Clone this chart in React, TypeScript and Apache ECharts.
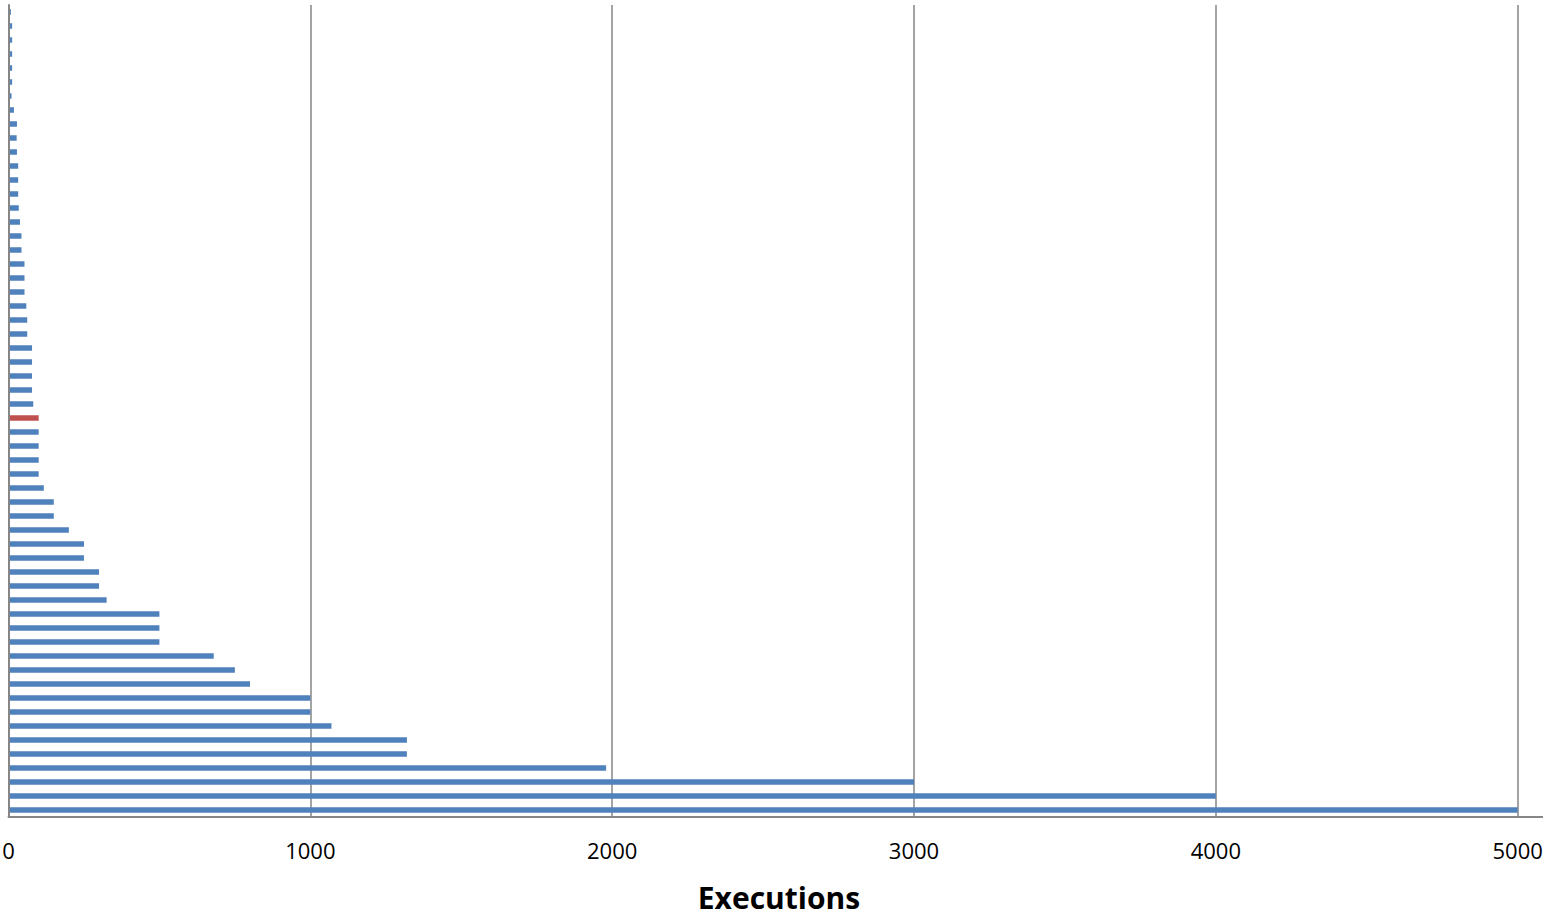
import React, { useEffect, useRef } from "react";
import * as echarts from "echarts";

// Categories from bottom (first) to top (last); original labels are cropped out of view
const categories = [
  "C01", "C02", "C03", "C04", "C05", "C06", "C07", "C08", "C09", "C10",
  "C11", "C12", "C13", "C14", "C15", "C16", "C17", "C18", "C19", "C20",
  "C21", "C22", "C23", "C24", "C25", "C26", "C27", "C28", "C29", "C30",
  "C31", "C32", "C33", "C34", "C35", "C36", "C37", "C38", "C39", "C40",
  "C41", "C42", "C43", "C44", "C45", "C46", "C47", "C48", "C49", "C50",
  "C51", "C52", "C53", "C54", "C55", "C56", "C57", "C58",
];

const executions = [
  5000, 4000, 3000, 1980, 1320, 1320, 1070, 1000, 1000, 800,
  750, 680, 500, 500, 500, 325, 300, 300, 250, 250,
  200, 150, 150, 117, 100, 100, 100, 100, 100, 82,
  78, 78, 78, 78, 62, 62, 59, 53, 53, 53,
  43, 43, 38, 34, 32, 32, 32, 28, 27, 28,
  18, 10, 12, 12, 12, 12, 12, 8,
];

const highlighted = ["C29"];

const xTicks = [0, 1000, 2000, 3000, 4000, 5000, 6000];
const axisTitle = "Executions";

const BLUE = "#4F81BD";
const RED = "#C0504D";
const GRAY = "#868686";

const CHART_W = 1830;
const CHART_H = 915;

export default function App() {
  const ref = useRef<HTMLDivElement>(null);

  useEffect(() => {
    if (!ref.current) return;
    const chart = echarts.init(ref.current, undefined, {
      renderer: "svg",
      width: CHART_W,
      height: CHART_H,
    });
    const data = executions.map((v, i) => ({
      value: v,
      itemStyle: { color: highlighted.includes(categories[i]) ? RED : BLUE },
    }));
    chart.setOption({
      animation: false,
      backgroundColor: "#ffffff",
      grid: {
        left: 8.5,
        top: 5,
        bottom: 98,
        right: 10.5,
        containLabel: false,
        outerBoundsMode: "none",
      },
      xAxis: {
        type: "value",
        min: xTicks[0],
        max: xTicks[xTicks.length - 1],
        interval: 1000,
        axisLine: { show: true, lineStyle: { color: GRAY, width: 2 } },
        axisTick: { show: false },
        splitLine: { show: true, lineStyle: { color: GRAY, width: 1.5 } },
        axisLabel: {
          show: true,
          margin: 22,
          fontFamily: "Open Sans",
          fontSize: 22,
          color: "#000000",
          hideOverlap: false,
          showMinLabel: true,
          formatter: (v: number) => String(v),
        },
      },
      yAxis: {
        type: "category",
        data: categories,
        z: 3,
        axisLine: { show: true, lineStyle: { color: GRAY, width: 2 } },
        axisTick: { show: false },
        axisLabel: { show: false },
        splitLine: { show: false },
      },
      graphic: [
        {
          type: "text",
          x: 779,
          y: 897,
          style: {
            text: axisTitle,
            fontFamily: "Open Sans",
            fontWeight: "bold",
            fontSize: 30,
            lineHeight: 30,
            fill: "#000000",
            textAlign: "center",
            textVerticalAlign: "middle",
          },
        },
      ],
      series: [
        {
          type: "bar",
          data,
          barWidth: 5.5,
          itemStyle: { color: BLUE },
        },
      ],
    });
    return () => chart.dispose();
  }, []);

  return (
    <div
      style={{ position: "absolute", left: 0, top: 0, width: 1543, height: 915, overflow: "hidden" }}
    >
      <div ref={ref} style={{ width: CHART_W, height: CHART_H }} />
    </div>
  );
}
